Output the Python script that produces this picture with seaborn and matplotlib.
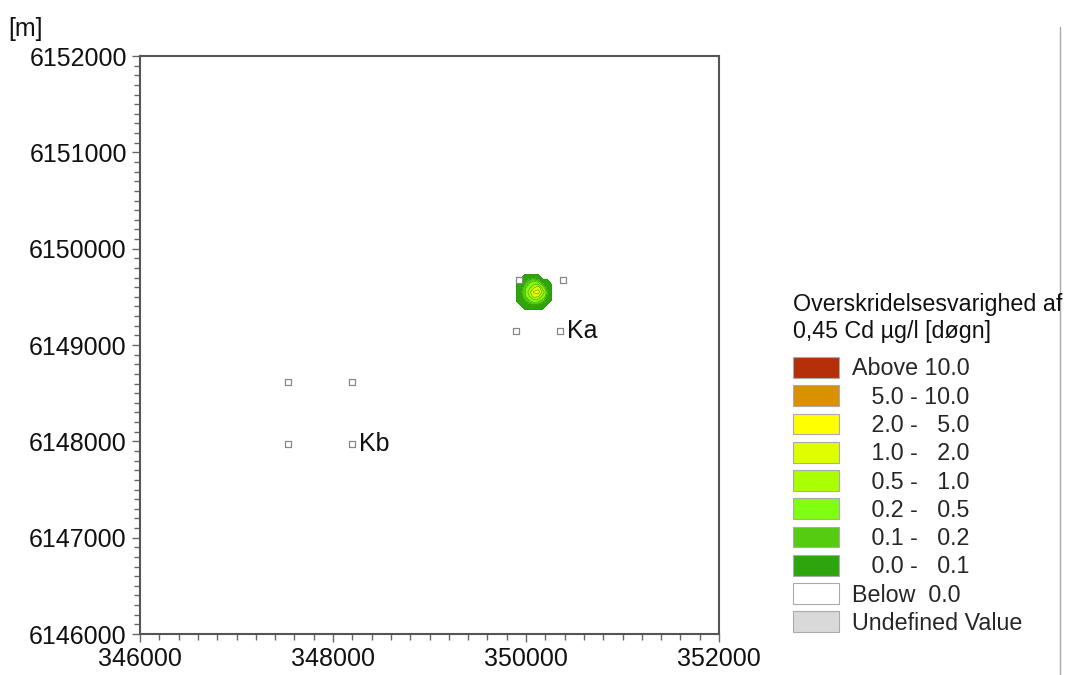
import numpy as np
import pandas as pd
import matplotlib.pyplot as plt
import seaborn as sns
from matplotlib.patches import Patch
from matplotlib.lines import Line2D
from matplotlib.ticker import MultipleLocator, ScalarFormatter

# Stationer (x, y) i meter
stn_x = [349930, 350380, 349900, 350350, 347530, 348200, 347530, 348200]
stn_y = [6149680, 6149680, 6149150, 6149150, 6148620, 6148620, 6147970, 6147970]
stn_navn = ["", "", "", "Ka", "", "", "", "Kb"]

# Overskridelsesvarighed [døgn] aflæst omkring udledningspunktet
grid_x = [349900, 349945, 349990, 350035, 350080, 350125, 350170, 350215, 350260]
grid_y = [6149730, 6149685, 6149640, 6149595, 6149550, 6149505, 6149460, 6149415, 6149370]
varighed = [
    [0, 0, 0, 0, 0, 0, 0, 0, 0],
    [0, 0, 0.04, 0.09, 0.12, 0.06, 0, 0, 0],
    [0, 0.04, 0.1, 0.2, 0.3, 0.25, 0.1, 0.03, 0],
    [0, 0.06, 0.14, 0.4, 0.9, 1.5, 0.3, 0.08, 0],
    [0, 0.07, 0.18, 0.7, 2.2, 2.6, 0.8, 0.12, 0],
    [0, 0.06, 0.15, 0.5, 1.2, 1.1, 0.4, 0.09, 0],
    [0, 0.03, 0.09, 0.18, 0.3, 0.25, 0.14, 0.05, 0],
    [0, 0, 0.03, 0.06, 0.08, 0.07, 0.04, 0, 0],
    [0, 0, 0, 0, 0, 0, 0, 0, 0],
]

niveauer = [0.001, 0.1, 0.2, 0.5, 1.0, 2.0, 5.0, 10.0, 1000]
farver = ["#2ca60c", "#55cc10", "#80ff10", "#aaff00", "#ddff00", "#ffff00", "#d99100", "#b52f08"]
legend_tekst = ["Above 10.0", "   5.0 - 10.0", "   2.0 -   5.0", "   1.0 -   2.0",
                "   0.5 -   1.0", "   0.2 -   0.5", "   0.1 -   0.2", "   0.0 -   0.1",
                "Below  0.0", "Undefined Value"]
legend_farver = farver[::-1] + ["#ffffff", "#d9d9d9"]

sns.set_style("white")
plt.rcParams['font.family'] = ['Liberation Sans', 'DejaVu Sans']

fig = plt.figure(figsize=(10.67, 6.75), dpi=100)
ax = fig.add_axes([0.1312, 0.0607, 0.5427, 0.8563])

gx, gy = np.meshgrid(grid_x, grid_y)
ax.contourf(gx, gy, np.array(varighed), levels=niveauer, colors=farver)
ax.contour(gx, gy, np.array(varighed), levels=niveauer[:-1], colors="#3a8a10", linewidths=0.4)

df = pd.DataFrame({"x": stn_x, "y": stn_y, "navn": stn_navn})
sns.scatterplot(data=df, x="x", y="y", marker="s", s=22, color="white",
                edgecolor="#888888", linewidth=0.9, ax=ax, zorder=5)
for _, r in df.iterrows():
    if r["navn"]:
        ax.annotate(r["navn"], (r["x"], r["y"]), xytext=(5, 0), textcoords="offset points",
                    va="center", ha="left", fontsize=18, color="#111111")

ax.set_xlim(346000, 352000)
ax.set_ylim(6146000, 6152000)
ax.set_xticks([346000, 348000, 350000, 352000])
ax.set_yticks(np.arange(6146000, 6152001, 1000))
fmt = ScalarFormatter(useOffset=False)
fmt.set_scientific(False)
ax.yaxis.set_major_formatter(fmt)
ax.xaxis.set_minor_locator(MultipleLocator(200))
ax.yaxis.set_minor_locator(MultipleLocator(100))
ax.tick_params(which="both", direction="out", left=True, bottom=True, colors="#666666",
               labelcolor="#111111", labelsize=18, width=1)
ax.tick_params(which="major", length=6)
ax.tick_params(which="minor", length=4.5)
ax.set_xlabel("")
ax.set_ylabel("")
for s in ax.spines.values():
    s.set_color("#555555")
    s.set_linewidth(1.5)

fig.text(0.008, 0.975, "[m]", fontsize=18, color="#111111", va="top")

# Legendens titel
fig.text(0.743, 0.566, "Overskridelsesvarighed af\n0,45 Cd µg/l [døgn]", fontsize=16.75,
         color="#111111", va="top", ha="left")

handles = [Patch(facecolor=c, edgecolor="#aaaaaa", linewidth=0.8) for c in legend_farver]
leg = fig.legend(handles, legend_tekst, loc="upper left", bbox_to_anchor=(0.743, 0.471),
                 frameon=False, fontsize=16.75, handlelength=2.0,
                 handleheight=1.0, labelspacing=0.21, handletextpad=0.55,
                 borderaxespad=0, borderpad=0)

fig.add_artist(Line2D([0.9935, 0.9935], [0.0, 0.96], transform=fig.transFigure,
                      color="#aaaaaa", linewidth=1))

fig.savefig("out.png", dpi=100)
